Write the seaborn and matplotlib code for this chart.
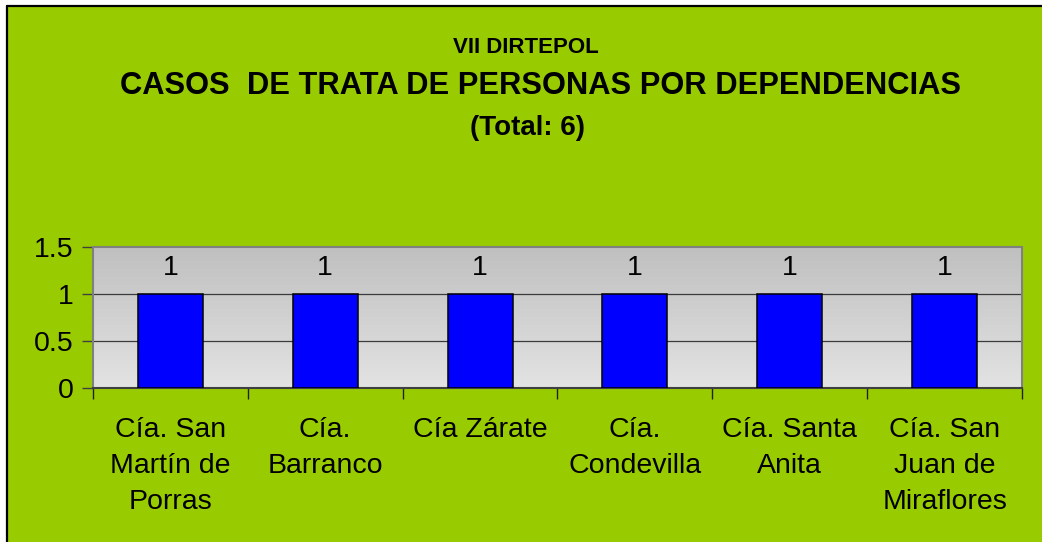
import numpy as np
import matplotlib
matplotlib.use("Agg")
import matplotlib.pyplot as plt
import seaborn as sns
import pandas as pd
from matplotlib.patches import Rectangle
from matplotlib.lines import Line2D

categories = ["Cía. San\nMartín de\nPorras", "Cía.\nBarranco", "Cía Zárate",
              "Cía.\nCondevilla", "Cía. Santa\nAnita", "Cía. San\nJuan de\nMiraflores"]
values = [1, 1, 1, 1, 1, 1]
yticks = [0, 0.5, 1, 1.5]
ytick_labels = ["0", "0.5", "1", "1.5"]
title_top = "VII DIRTEPOL"
title_main = "CASOS  DE TRATA DE PERSONAS POR DEPENDENCIAS"
title_sub = "(Total: 6)"

sns.set_theme(style="white")
plt.rcParams['font.family'] = ['Liberation Sans', 'DejaVu Sans']

GREEN = "#99CC00"
FS = 20.5
fig = plt.figure(figsize=(10.42, 5.42), dpi=100)
fig.patch.set_facecolor("white")
W, H = 1042, 542
# green panel with left/top border
fig.patches.append(Rectangle((8 / W, 0), 1 - 8 / W, 1 - 7 / H, transform=fig.transFigure,
                             facecolor=GREEN, edgecolor="none", zorder=-10))
fig.lines.append(Line2D([7 / W, 7 / W], [0, 1 - 6 / H], transform=fig.transFigure,
                        color="black", lw=1.6, zorder=-5))
fig.lines.append(Line2D([7 / W, 1], [1 - 6 / H, 1 - 6 / H], transform=fig.transFigure,
                        color="black", lw=1.6, zorder=-5))

ax = fig.add_axes([93 / W, 1 - 388 / H, (1022 - 93) / W, (388 - 247) / H])
ax.set_facecolor("none")

df = pd.DataFrame({"cat": categories, "val": values})
sns.barplot(data=df, x="cat", y="val", color="#0000FF", saturation=1, width=0.42,
            edgecolor="black", linewidth=1.1, ax=ax, zorder=3)

# gradient background (darker at top, lighter at bottom)
grad = np.linspace(0, 1, 256).reshape(-1, 1)
top = np.array([0.75, 0.75, 0.75])
bot = np.array([0.89, 0.89, 0.89])
img = top[None, None, :] * (1 - grad[..., None]) + bot[None, None, :] * grad[..., None]
ax.imshow(img, extent=[-0.5, len(categories) - 0.5, 0, 1.5], origin="upper",
          aspect="auto", zorder=0)
ax.set_xlim(-0.5, len(categories) - 0.5)
ax.set_ylim(0, 1.5)

for y in [0.5, 1.0]:
    ax.axhline(y, color="#3a3a3a", lw=0.9, zorder=1)

ax.set_yticks(yticks)
ax.set_yticklabels(ytick_labels, fontsize=FS, color="black")
ax.tick_params(axis="y", direction="out", length=8, width=1, color="#404040", pad=6, left=True)

ax.set_xticks(range(len(categories)))
ax.set_xticklabels(categories, fontsize=FS, color="black", linespacing=1.5)
ax.tick_params(axis="x", which="major", length=0, pad=21)
ax.set_xticks(np.arange(-0.5, len(categories), 1.0), minor=True)
ax.tick_params(axis="x", which="minor", direction="out", length=8, width=1, color="#202020", bottom=True)

ax.set_xlabel("")
ax.set_ylabel("")
ax.grid(False)
for s in ["top", "right", "left"]:
    ax.spines[s].set_color("#808080")
    ax.spines[s].set_linewidth(1.5)
ax.spines["bottom"].set_color("#404040")
ax.spines["bottom"].set_linewidth(1.5)

for i, v in enumerate(values):
    ax.annotate(f"{v}", (i, v), xytext=(0, 9), textcoords="offset points",
                ha="center", va="bottom", fontsize=FS, color="black")

fig.text(525.5 / W, 1 - 53 / H, title_top, ha="center", va="baseline",
         fontsize=16, fontweight="bold", color="black")
fig.text(540 / W, 1 - 94 / H, title_main, ha="center", va="baseline",
         fontsize=22.2, fontweight="bold", color="black")
fig.text(527 / W, 1 - 135 / H, title_sub, ha="center", va="baseline",
         fontsize=20, fontweight="bold", color="black")

fig.savefig("out.png", dpi=100)
